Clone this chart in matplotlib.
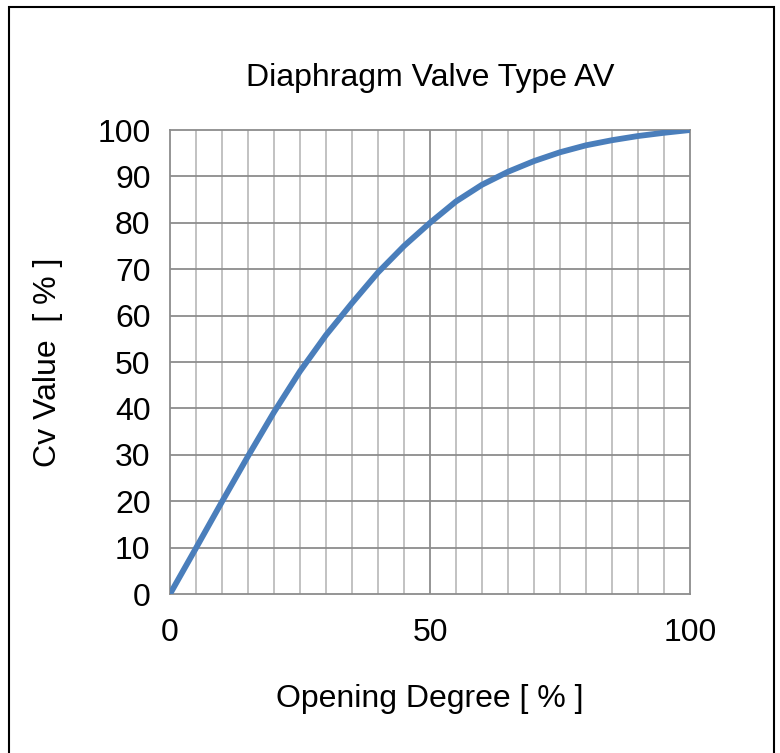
import matplotlib
matplotlib.use("Agg")
import matplotlib.pyplot as plt
from matplotlib.patches import Rectangle

plt.rcParams['font.family'] = ['Liberation Sans', 'DejaVu Sans']

opening = [0, 5, 10, 15, 20, 25, 30, 35, 40, 45, 50,
           55, 60, 65, 70, 75, 80, 85, 90, 95, 100]
cv_value = [0, 9.9, 19.9, 29.7, 39.2, 48.0, 55.8, 62.7, 69.3, 75.0, 80.0,
            84.6, 88.2, 91.0, 93.3, 95.2, 96.7, 97.8, 98.7, 99.4, 100]

x_ticks = [0, 50, 100]
y_ticks = list(range(0, 101, 10))

W, H = 780, 753
fig = plt.figure(figsize=(W / 100, H / 100), dpi=100)
ax = fig.add_axes([170 / W, 1 - 594 / H, 520 / W, 464 / H])

# light minor verticals every 5, darker major lines
for xv in range(5, 100, 5):
    col = '#8c8c8c' if xv % 50 == 0 else '#bdbdbd'
    ax.axvline(xv, color=col, lw=1.3, zorder=1)
for yv in y_ticks[1:-1]:
    ax.axhline(yv, color='#8c8c8c', lw=1.3, zorder=1)

ax.plot(opening, cv_value, color='#4a7ebb', lw=4.2, solid_joinstyle='round',
        solid_capstyle='butt', zorder=3)

ax.set_xlim(0, 100)
ax.set_ylim(0, 100)
ax.set_xticks(x_ticks)
ax.set_yticks(y_ticks)
ax.tick_params(length=0, labelsize=23)
ax.tick_params(axis='x', pad=17)
ax.tick_params(axis='y', pad=14)
for s in ax.spines.values():
    s.set_color('#8c8c8c')
    s.set_linewidth(1.3)

ax.set_title('Diaphragm Valve Type AV', fontsize=23, pad=32)
ax.set_xlabel('Opening Degree [ % ]', fontsize=23, labelpad=26)
ax.set_ylabel('Cv Value  [ % ]', fontsize=23, labelpad=25)

# outer frame around the chart
fig.patches.append(Rectangle((9 / W, -0.05), 765 / W, 1 - 7 / H + 0.05,
                             transform=fig.transFigure, fill=False,
                             edgecolor='black', lw=1.5, clip_on=False))

fig.savefig('out.png', dpi=100)
